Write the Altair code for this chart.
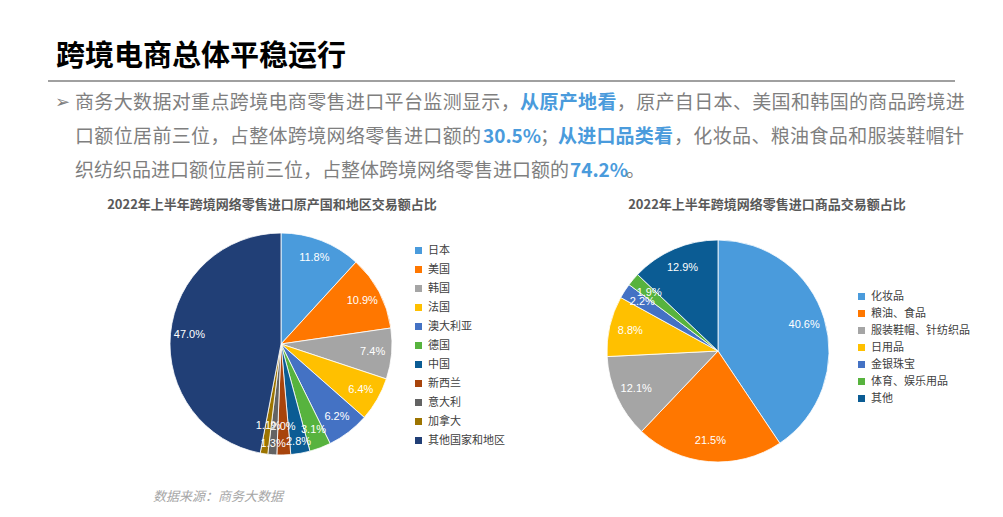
import altair as alt
import pandas as pd
import math

# ---------------- data ----------------
countries = ["日本", "美国", "韩国", "法国", "澳大利亚", "德国", "中国", "新西兰", "意大利", "加拿大", "其他国家和地区"]
country_share = [11.8, 10.9, 7.4, 6.4, 6.2, 3.1, 2.8, 2.0, 1.3, 1.1, 47.0]
country_colors = ["#4A9BDC", "#FF7700", "#A5A5A5", "#FFC000", "#4472C4", "#57B33E",
                  "#0B5C94", "#A8440C", "#636363", "#9C7400", "#213F76"]

categories = ["化妆品", "粮油、食品", "服装鞋帽、针纺织品", "日用品", "金银珠宝", "体育、娱乐用品", "其他"]
category_share = [40.6, 21.5, 12.1, 8.8, 2.2, 1.9, 12.9]
category_colors = ["#4A9BDC", "#FF7700", "#A5A5A5", "#FFC000", "#4472C4", "#57B33E", "#0B5C94"]

header = "跨境电商总体平稳运行"
left_title = "2022年上半年跨境网络零售进口原产国和地区交易额占比"
right_title = "2022年上半年跨境网络零售进口商品交易额占比"
source = "数据来源：商务大数据"

GRAY = "#7F7F7F"
BLUE = "#4A9BDC"
FONT = "Noto Sans CJK SC"

# page offset (8px body margin)
def px(x):
    return x - 8

def py(y):
    return y - 8


def text_mark(t, x, y, size, color, weight="normal", align="left", font=FONT, style="normal"):
    return alt.Chart(pd.DataFrame({"t": [t]})).mark_text(
        font=font, fontSize=size, color=color, fontWeight=weight, align=align,
        baseline="middle", fontStyle=style
    ).encode(text="t:N", x=alt.value(px(x)), y=alt.value(py(y)))


def spaced_text(t, x, y, step, size, color, weight="normal"):
    """Justified CJK text: one glyph per full-width cell."""
    df = pd.DataFrame({"c": list(t), "x": [px(x + i * step) for i in range(len(t))]})
    return alt.Chart(df).mark_text(
        font=FONT, fontSize=size, color=color, fontWeight=weight, align="left", baseline="middle"
    ).encode(text="c:N", x=alt.X("x:Q", scale=None), y=alt.value(py(y)))


layers = []

# header + rule
layers.append(text_mark(header, 56, 57, 29, "#000000", weight="bold"))
layers.append(alt.Chart(pd.DataFrame({"a": [0]})).mark_rule(color="#808080", strokeWidth=1.5).encode(
    x=alt.value(px(48)), x2=alt.value(px(955)), y=alt.value(py(81))))

# paragraph
layers.append(text_mark("➢", 55, 103, 18, GRAY, font="DejaVu Sans"))
s = 19.35
x0 = 75
# line 1 (justified)
layers.append(spaced_text("商务大数据对重点跨境电商零售进口平台监测显示，", x0, 103, s, 19, GRAY))
layers.append(spaced_text("从原产地看", x0 + 23 * s, 103, s, 19, BLUE, "bold"))
layers.append(spaced_text("，原产自日本、美国和韩国的商品跨境进", x0 + 28 * s, 103, s, 19, GRAY))
# line 2 (justified)
layers.append(spaced_text("口额位居前三位，占整体跨境网络零售进口额的", x0, 137, s, 19, GRAY))
layers.append(text_mark("30.5%", 483, 137, 19, BLUE, weight="bold"))
layers.append(text_mark("；", 540, 137, 19, GRAY))
layers.append(spaced_text("从进口品类看", 558, 137, 19.2, 19, BLUE, "bold"))
layers.append(spaced_text("，化妆品、粮油食品和服装鞋帽针", 674, 137, s, 19, GRAY))
# line 3 (natural spacing)
layers.append(text_mark("织纺织品进口额位居前三位，占整体跨境网络零售进口额的", x0, 171, 19, GRAY))
layers.append(text_mark("74.2%", 570, 171, 19, BLUE, weight="bold"))
layers.append(text_mark("。", 626, 171, 19, GRAY))

# chart titles
layers.append(text_mark(left_title, 272, 205, 13, "#595959", weight="bold", align="center"))
layers.append(text_mark(right_title, 767, 205, 13, "#595959", weight="bold", align="center"))

# source
layers.append(text_mark(source, 153, 497, 13, "#A6A6A6", style="italic"))


def pie(names, shares, colors, field, cx, cy, r, lr, lx, ly, row_pad, stagger):
    df = pd.DataFrame({field: names, "share": shares, "idx": list(range(len(names)))})
    total = float(sum(shares))
    theta_scale = alt.Scale(domain=[0, total], range=[0, 2 * math.pi])
    arc = alt.Chart(df).mark_arc(outerRadius=r, stroke="white", strokeWidth=0.8).encode(
        theta=alt.Theta("share:Q", stack=True, scale=theta_scale),
        order=alt.Order("idx:Q", sort="ascending"),
        color=alt.Color(
            f"{field}:N",
            sort=names,
            scale=alt.Scale(domain=names, range=colors),
            legend=alt.Legend(
                title=None, orient="none", legendX=px(lx), legendY=py(ly),
                symbolType="square", symbolSize=49, symbolStrokeWidth=0,
                labelFont=FONT, labelFontSize=11, labelColor="#404040",
                rowPadding=row_pad, labelOffset=4, padding=0,
            ),
        ),
        x=alt.value(px(cx)), y=alt.value(py(cy)),
    )
    # labels at the middle angle of each slice; optionally, small neighbouring
    # slices get staggered label radii so their labels don't pile up
    if stagger:
        lr_expr = f"datum.share < 3 ? (datum.idx % 2 == 0 ? {lr + 8} : {lr - 9}) : {lr}"
    else:
        lr_expr = f"{lr}"
    txt = alt.Chart(df).transform_window(
        cum="sum(share)", sort=[alt.SortField("idx", order="ascending")]
    ).transform_calculate(
        mid="datum.cum - datum.share / 2",
        label="format(datum.share, '.1f') + '%'",
        lr=lr_expr,
    ).mark_text(font="Liberation Sans", fontSize=11, color="#FFFFFF").encode(
        theta=alt.Theta("mid:Q", stack=None, scale=theta_scale),
        radius=alt.Radius("lr:Q", scale=None),
        text="label:N",
        x=alt.value(px(cx)), y=alt.value(py(cy)),
    )
    return [arc, txt]


layers += pie(countries, country_share, country_colors, "country", 281, 344, 111, 92, 413, 245, 7, True)
layers += pie(categories, category_share, category_colors, "category", 718, 351, 111, 90, 856, 291, 5, False)

chart = alt.layer(*layers).resolve_scale(color="independent").resolve_legend(color="independent").properties(
    width=987, height=501, padding=0, autosize=alt.AutoSizeParams(type="none")
).configure_view(stroke=None)

chart.save("out.html", embed_options={"renderer": "svg", "actions": False})
